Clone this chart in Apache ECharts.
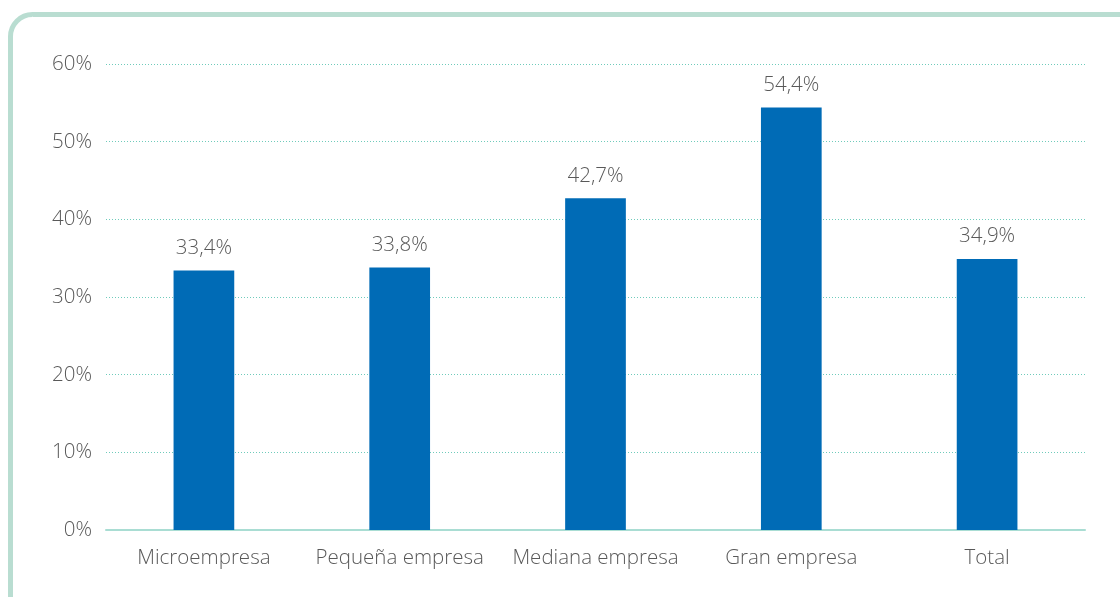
<!DOCTYPE html>
<html>
<head>
<meta charset="utf-8">
<script src="https://cdn.jsdelivr.net/npm/echarts@6/dist/echarts.min.js"></script>
<style>
html,body{margin:0;padding:0;background:#fff;}
#chart{width:1120px;height:597px;}
</style>
</head>
<body>
<div id="chart"></div>
<script>
const categories = ["Microempresa", "Pequeña empresa", "Mediana empresa", "Gran empresa", "Total"];
const values = [33.4, 33.8, 42.7, 54.4, 34.9];

const chart = echarts.init(document.getElementById('chart'), null, {renderer: 'canvas'});
const fontFamily = '"Open Sans", "Noto Sans", sans-serif';
chart.setOption({
  animation: false,
  backgroundColor: '#ffffff',
  graphic: [{
    type: 'rect',
    left: 8, top: 12,
    shape: {x: 0, y: 0, width: 1140, height: 620, r: 22},
    style: {fill: 'none', stroke: '#b9ddd1', lineWidth: 5},
    silent: true
  }],
  grid: {left: 106, right: 35, top: 64, bottom: 67},
  xAxis: {
    type: 'category',
    data: categories,
    axisLine: {show: true, lineStyle: {color: '#a9ddd3', width: 2}},
    axisTick: {show: false},
    axisLabel: {interval: 0, color: '#595959', fontSize: 20.5, fontFamily: fontFamily, fontWeight: 300, margin: 18}
  },
  yAxis: {
    type: 'value',
    min: 0, max: 60, interval: 10,
    axisLine: {show: false},
    axisTick: {show: false},
    axisLabel: {color: '#595959', fontSize: 20.5, fontFamily: fontFamily, fontWeight: 300, margin: 14,
      formatter: v => v + '%'},
    splitLine: {show: true, lineStyle: {color: '#6fcbbb', type: [1, 2], width: 1}}
  },
  series: [{
    type: 'bar',
    data: values,
    barWidth: '31%',
    itemStyle: {color: '#006bb6'},
    label: {
      show: true, position: 'top', distance: 12,
      color: '#595959', fontSize: 20.5, fontFamily: fontFamily, fontWeight: 300,
      formatter: p => p.value.toFixed(1).replace('.', ',') + '%'
    }
  }]
});
</script>
</body>
</html>
